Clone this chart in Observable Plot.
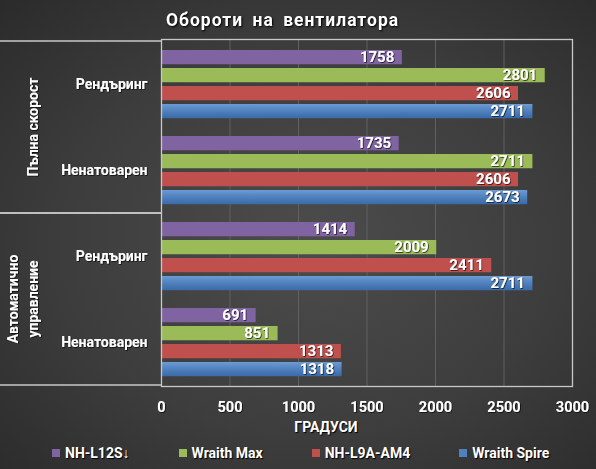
<!DOCTYPE html>
<html><head><meta charset="utf-8">
<script src="https://cdn.jsdelivr.net/npm/d3@7"></script>
<script src="https://cdn.jsdelivr.net/npm/@observablehq/plot@0.6"></script>
<style>
body{margin:0;background:#2b2b2b;}
#chart{position:relative;width:596px;height:469px;overflow:hidden;
 background:radial-gradient(ellipse 75% 75% at 52% 52%, #4c4c4c 0%, #3d3d3d 55%, #2a2a2a 100%);
 font-family:Roboto,"Open Sans",sans-serif;color:#fff;font-weight:bold;}
#title{position:absolute;top:10px;left:0;width:565px;text-align:center;font-size:17.5px;letter-spacing:1px;word-spacing:4px;text-shadow:1px 1px 2px #000;}
#plot{position:absolute;top:0;left:0;}
#xlabel{position:absolute;top:419px;left:226px;width:200px;text-align:center;font-size:14px;text-shadow:1px 1px 1px #000;}
#legend{position:absolute;top:445px;left:52px;display:flex;gap:49px;font-size:14px;text-shadow:1px 1px 1px #000;}
#legend .it{display:flex;align-items:center;}
#legend .sw{width:8px;height:8px;margin-right:5px;}
</style></head>
<body><div id="chart"><div id="plot"></div><div id="title">Обороти на вентилатора</div><div id="xlabel"></div><div id="legend"></div></div>
<script>
// ---- data ----
const outerGroups = ["Пълна скорост", "Автоматично управление"];
const outerLabelLines = [["Пълна скорост"], ["Автоматично", "управление"]];
const innerCats = ["Рендъринг", "Ненатоварен"];
const series = ["NH-L12S↓", "Wraith Max", "NH-L9A-AM4", "Wraith Spire"];
const colors = ["#8064A2", "#9BBB59", "#C0504D", "url(#blueGrad)"];
const legendColors = ["#8064A2", "#9BBB59", "#C0504D", "#4F81BD"];
// values per series, rows: [ПС·Рендъринг, ПС·Ненатоварен, АУ·Рендъринг, АУ·Ненатоварен]
const vNHL12S = [1758, 1735, 1414, 691];
const vWraithMax = [2801, 2711, 2009, 851];
const vNHL9A = [2606, 2606, 2411, 1313];
const vWraithSpire = [2711, 2673, 2711, 1318];
const xTicks = [0, 500, 1000, 1500, 2000, 2500, 3000];
const xTitle = "ГРАДУСИ";

const seriesValues = [vNHL12S, vWraithMax, vNHL9A, vWraithSpire];
const rows = [];
outerGroups.forEach(g => innerCats.forEach(c => rows.push(g + "|" + c)));
const data = [];
series.forEach((s, si) => rows.forEach((r, ri) => data.push({series: s, si, row: r, value: seriesValues[si][ri]})));

const W = 596, H = 442, mT = 39, mB = 56, mL = 161, mR = 24;
const bw = (H - mT - mB) / rows.length;
const off = 9, step = 18, bh = 15;

const marks = [
  Plot.gridX({ticks: xTicks.slice(1, -1), stroke: "#616161", strokeOpacity: 1}),
];
series.forEach((s, i) => {
  const d = data.filter(e => e.si === i);
  marks.push(Plot.barX(d, {x: "value", y: "row", fill: colors[i], ariaLabel: "bar-" + i,
    insetTop: off + step * i, insetBottom: bw - (off + step * i + bh)}));
});
series.forEach((s, i) => {
  const d = data.filter(e => e.si === i);
  marks.push(Plot.text(d, {x: "value", y: "row", text: e => String(e.value), textAnchor: "end",
    dx: -8, dy: off + step * i + bh / 2 - bw / 2, fill: "white", fontSize: 15, fontWeight: "bold"}));
});
marks.push(Plot.frame({stroke: "#c8c8c8", strokeWidth: 1.3}));
marks.push(Plot.axisY({tickSize: 0, tickPadding: 14, fontSize: 14, tickFormat: d => d.split("|")[1], fill: "white"}));
marks.push(Plot.axisX({ticks: xTicks, tickSize: 0, tickPadding: 15, fontSize: 14.5, fill: "white", label: null, tickFormat: d => String(d)}));

const plot = Plot.plot({
  width: W, height: H, marginTop: mT, marginBottom: mB, marginLeft: mL, marginRight: mR,
  style: {background: "transparent", color: "white", fontFamily: "Roboto, 'Open Sans', sans-serif", fontWeight: "bold", overflow: "visible"},
  x: {domain: [0, 3000], label: null},
  y: {domain: rows, padding: 0, label: null},
  marks
});
document.getElementById("plot").appendChild(plot);

// defs: gradient + shadows
const svg = d3.select(plot);
const defs = svg.insert("defs", ":first-child");
const lg = defs.append("linearGradient").attr("id", "blueGrad").attr("x1", 0).attr("y1", 0).attr("x2", 0).attr("y2", 1);
lg.append("stop").attr("offset", "0%").attr("stop-color", "#6d9ad3");
lg.append("stop").attr("offset", "50%").attr("stop-color", "#4f81bd");
lg.append("stop").attr("offset", "100%").attr("stop-color", "#3a6aa9");
const f = defs.append("filter").attr("id", "shadow").attr("x", "-5%").attr("y", "-30%").attr("width", "115%").attr("height", "180%");
f.append("feDropShadow").attr("dx", 2).attr("dy", 2).attr("stdDeviation", 1.5).attr("flood-color", "#000").attr("flood-opacity", 0.55);
const fs = defs.append("filter").attr("id", "shadowSoft").attr("x", "-5%").attr("y", "-30%").attr("width", "115%").attr("height", "180%");
fs.append("feDropShadow").attr("dx", 1).attr("dy", 1).attr("stdDeviation", 1).attr("flood-color", "#000").attr("flood-opacity", 0.25);
const ft = defs.append("filter").attr("id", "tshadow").attr("x", "-10%").attr("y", "-20%").attr("width", "130%").attr("height", "150%");
ft.append("feDropShadow").attr("dx", 0.8).attr("dy", 0.8).attr("stdDeviation", 0.6).attr("flood-color", "#000").attr("flood-opacity", 0.8);
svg.selectAll("g[aria-label='bar-0'], g[aria-label='bar-1'], g[aria-label='bar-2']").attr("filter", "url(#shadowSoft)");
svg.selectAll("g[aria-label='bar-3']").attr("filter", "url(#shadow)");
svg.selectAll("g[aria-label='text'], g[aria-label='y-axis tick label'], g[aria-label='x-axis tick label']").attr("filter", "url(#tshadow)");

// outer group labels and dividers
const ys = plot.scale("y");
const og = svg.append("g").attr("fill", "white").attr("font-size", 14).attr("font-weight", "bold").attr("filter", "url(#tshadow)");
outerGroups.forEach((g, gi) => {
  const gr = rows.filter(r => r.startsWith(g + "|"));
  const y0 = ys.apply(gr[0]);
  const y1 = ys.apply(gr[gr.length - 1]) + ys.bandwidth;
  [y0, y1].forEach(yy => svg.append("line").attr("x1", 0).attr("x2", mL).attr("y1", yy).attr("y2", yy)
    .attr("stroke", "#c8c8c8").attr("stroke-width", 1.3));
  const lines = outerLabelLines[gi];
  const yc = (y0 + y1) / 2;
  lines.forEach((ln, li) => {
    const x = 33 - (lines.length - 1 - li) * 20;
    og.append("text").attr("transform", `translate(${x},${yc}) rotate(-90)`)
      .attr("text-anchor", "middle").attr("dominant-baseline", "central").text(ln);
  });
});

document.getElementById("xlabel").textContent = xTitle;
const leg = document.getElementById("legend");
series.forEach((s, i) => {
  const it = document.createElement("div"); it.className = "it";
  const sw = document.createElement("div"); sw.className = "sw"; sw.style.background = legendColors[i];
  const t = document.createElement("span"); t.textContent = s;
  it.appendChild(sw); it.appendChild(t); leg.appendChild(it);
});
</script></body></html>
